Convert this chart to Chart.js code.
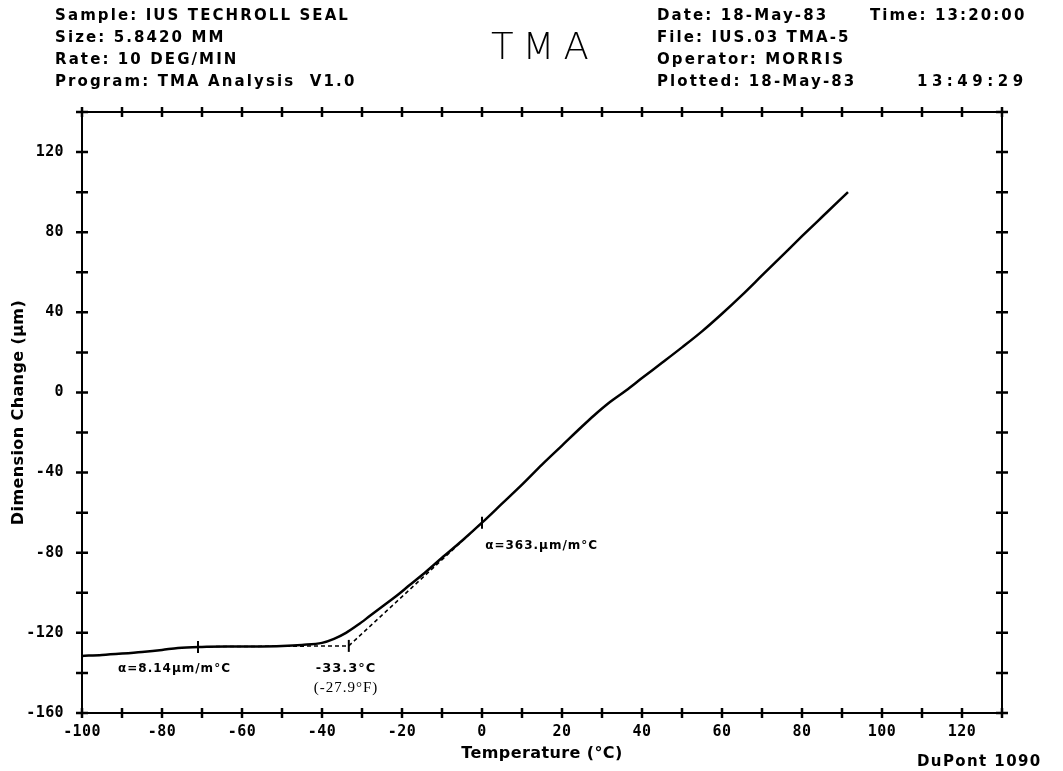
<!DOCTYPE html>
<html>
<head>
<meta charset="utf-8">
<title>TMA</title>
<script src="https://cdn.jsdelivr.net/npm/chart.js@4.4.0/dist/chart.umd.min.js"></script>
<style>
  body { margin: 0; background: #fff; }
  #wrap { position: relative; width: 1063px; height: 771px; }
  #wrap canvas { position: absolute; left: 0; top: 0; }
  .hdr { position: absolute; font: bold 15px "DejaVu Sans", sans-serif; letter-spacing: 2.1px;
         line-height: 20px; white-space: pre; color: #000; }
  .hdr.num { letter-spacing: 4.5px; }
  #tma { position: absolute; left: 491px; top: 25px; font: 200 37px "DejaVu Sans", sans-serif;
         letter-spacing: 9px; line-height: 44px; color: #000; }
</style>
</head>
<body>
<div id="wrap">
  <canvas id="tmaChart" width="1063" height="771"></canvas>
  <div class="hdr" style="left:55px; top:5px">Sample: IUS TECHROLL SEAL</div>
  <div class="hdr" style="left:55px; top:27px">Size: 5.8420 MM</div>
  <div class="hdr" style="left:55px; top:49px">Rate: 10 DEG/MIN</div>
  <div class="hdr" style="left:55px; top:71px">Program: TMA Analysis  V1.0</div>
  <div id="tma">TMA</div>
  <div class="hdr" style="left:657px; top:5px">Date: 18-May-83</div>
  <div class="hdr" style="left:870px; top:5px">Time: <span class="num">13:20:00</span></div>
  <div class="hdr" style="left:657px; top:27px">File: IUS.03 TMA-5</div>
  <div class="hdr" style="left:657px; top:49px">Operator: MORRIS</div>
  <div class="hdr" style="left:657px; top:71px">Plotted: 18-May-83</div>
  <div class="hdr num" style="left:917px; top:71px">13:49:29</div>
  <div class="hdr" style="left:917px; top:751px; letter-spacing:1.4px">DuPont 1090</div>
</div>
<script>
// TMA trace
const tempC = [-100, -95, -90, -85, -80, -76, -70, -60, -50, -45, -40, -37, -34, -31, -28, -25,
  -22, -18, -14, -10, -5, 0, 5, 10, 15, 20, 25, 28, 32, 36, 40, 45, 50, 55, 60, 65, 70, 75, 80, 85, 91.5];
const dimChange = [-131.5, -131, -130.3, -129.5, -128.5, -127.5, -127, -126.8, -126.5, -126, -125, -123,
  -120, -116, -111.5, -107, -102.5, -96, -89.5, -82.5, -74, -65, -55.5, -46, -36, -26.5, -17, -11.5,
  -4.8, 1, 7.2, 14.8, 22.5, 30.5, 39.3, 48.6, 58.4, 68.2, 78, 87.6, 100];

// tangent construction for the onset
const baseLineX = [-70, -33.3];
const baseLineY = [-126.9, -126.5];
const riseLineX = [-33.3, 0];
const riseLineY = [-126.5, -65];
const markX = [-71, -33.3, 0];
const markY = [-127, -126.5, -65];

// labelled ticks
const xLabelled = [-100, -80, -60, -40, -20, 0, 20, 40, 60, 80, 100, 120];
const yLabelled = [-160, -120, -80, -40, 0, 40, 80, 120];

const pts = (xs, ys) => xs.map((x, i) => ({ x: x, y: ys[i] }));

const notes = [
  { text: 'α=8.14µm/m°C', x: -91, y: -138, align: 'left', font: 'bold 12px "DejaVu Sans"' },
  { text: '-33.3°C', x: -34, y: -138, align: 'center', font: 'bold 13px "DejaVu Sans"' },
  { text: '(-27.9°F)', x: -34, y: -147.5, align: 'center', font: '15px "Liberation Serif"' },
  { text: 'α=363.µm/m°C', x: 0.8, y: -76.5, align: 'left', font: 'bold 12px "DejaVu Sans"' }
];

const tickFont = { family: 'DejaVu Sans Mono', weight: 'bold', size: 15 };
const titleFont = { family: 'DejaVu Sans', weight: 'bold', size: 16 };

// frame with crossing ticks + text notes
const framePlugin = {
  id: 'frame',
  beforeDraw(chart) {
    chart.ctx.letterSpacing = '0.4px';
  },
  afterDraw(chart) {
    const { ctx, chartArea: a, scales: { x, y } } = chart;
    ctx.save();
    ctx.strokeStyle = '#000';
    ctx.lineWidth = 2;
    ctx.strokeRect(a.left, a.top, a.right - a.left, a.bottom - a.top);
    ctx.lineWidth = 2.5;
    ctx.beginPath();
    x.ticks.forEach(t => {
      const px = x.getPixelForValue(t.value);
      ctx.moveTo(px, a.bottom - 5); ctx.lineTo(px, a.bottom + 5);
      ctx.moveTo(px, a.top - 5); ctx.lineTo(px, a.top + 5);
    });
    y.ticks.forEach(t => {
      const py = y.getPixelForValue(t.value);
      ctx.moveTo(a.left - 6, py); ctx.lineTo(a.left + 6, py);
      ctx.moveTo(a.right - 6, py); ctx.lineTo(a.right + 6, py);
    });
    ctx.stroke();

    ctx.fillStyle = '#000';
    ctx.textBaseline = 'middle';
    notes.forEach(n => {
      ctx.font = n.font;
      ctx.textAlign = n.align;
      ctx.letterSpacing = '1px';
      ctx.fillText(n.text, x.getPixelForValue(n.x), y.getPixelForValue(n.y));
    });
    ctx.restore();
  }
};

new Chart(document.getElementById('tmaChart'), {
  type: 'line',
  data: {
    datasets: [
      {
        label: 'Dimension Change',
        data: pts(tempC, dimChange),
        borderColor: '#000',
        borderWidth: 2.5,
        pointRadius: 0,
        cubicInterpolationMode: 'monotone'
      },
      {
        label: 'baseline',
        data: pts(baseLineX, baseLineY),
        borderColor: '#000',
        borderWidth: 1.5,
        borderDash: [4, 3],
        pointRadius: 0
      },
      {
        label: 'tangent',
        data: pts(riseLineX, riseLineY),
        borderColor: '#000',
        borderWidth: 1.5,
        borderDash: [4, 3],
        pointRadius: 0
      },
      {
        type: 'scatter',
        label: 'marks',
        data: pts(markX, markY),
        pointStyle: 'line',
        rotation: 90,
        radius: 6,
        borderColor: '#000',
        borderWidth: 2,
        showLine: false
      }
    ]
  },
  options: {
    responsive: false,
    animation: false,
    layout: { padding: { top: 112, right: 61, left: 0, bottom: 0 } },
    plugins: {
      legend: { display: false },
      tooltip: { enabled: false }
    },
    scales: {
      x: {
        type: 'linear',
        min: -100,
        max: 130,
        afterFit: s => { s.height = 58; },
        grid: { display: false },
        border: { display: false },
        ticks: {
          stepSize: 10,
          autoSkip: false,
          maxRotation: 0,
          padding: 2,
          color: '#000',
          font: tickFont,
          callback: v => xLabelled.includes(v) ? String(v) : ''
        },
        title: {
          display: true,
          text: 'Temperature (°C)',
          color: '#000',
          font: titleFont,
          padding: { top: 0, bottom: 8 }
        }
      },
      y: {
        type: 'linear',
        min: -160,
        max: 140,
        afterFit: s => { s.width = 82; },
        grid: { display: false },
        border: { display: false },
        ticks: {
          stepSize: 20,
          autoSkip: false,
          padding: 10,
          color: '#000',
          font: tickFont,
          callback: v => yLabelled.includes(v) ? String(v) : ''
        },
        title: {
          display: true,
          text: 'Dimension Change (µm)',
          color: '#000',
          font: titleFont,
          padding: { top: 9, bottom: 0 }
        }
      }
    }
  },
  plugins: [framePlugin]
});
</script>
</body>
</html>
